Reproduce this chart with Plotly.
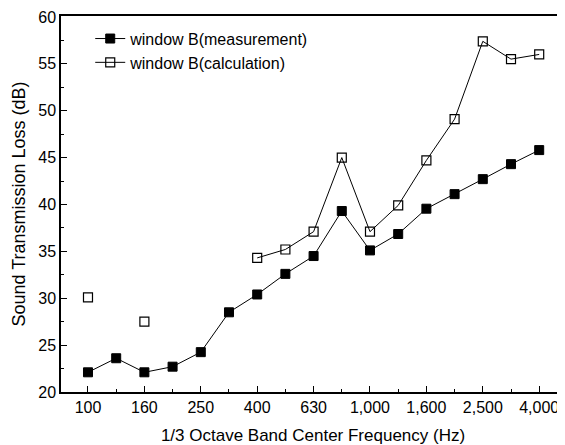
import plotly.graph_objects as go

freqs = [100, 125, 160, 200, 250, 315, 400, 500, 630, 800, 1000, 1250, 1600, 2000, 2500, 3150, 4000]
measurement = [22.1, 23.6, 22.1, 22.7, 24.25, 28.5, 30.4, 32.6, 34.5, 39.3, 35.1, 36.85, 39.55, 41.1, 42.7, 44.3, 45.8]
calculation = [30.1, None, 27.5, None, None, None, 34.3, 35.2, 37.1, 45.0, 37.1, 39.9, 44.7, 49.1, 57.4, 55.5, 56.0]
tick_labels = ["100", "160", "250", "400", "630", "1,000", "1,600", "2,500", "4,000"]

idx = list(range(len(freqs)))
tickvals = idx[::2]

font = "Liberation Sans, Arial, sans-serif"

fig = go.Figure()
fig.add_trace(go.Scatter(
    x=idx, y=measurement, mode="lines+markers", name="window B(measurement)",
    line=dict(color="black", width=1),
    marker=dict(symbol="square", size=9, color="black", line=dict(color="black", width=1)),
))
fig.add_trace(go.Scatter(
    x=idx, y=calculation, mode="lines+markers", name="window B(calculation)",
    connectgaps=False,
    line=dict(color="black", width=1),
    marker=dict(symbol="square-open", size=9, color="black", line=dict(color="black", width=1.2)),
))

# page body has an 8px default margin; figure is sized so it fills the 565x445 window
fig.update_layout(
    width=557, height=437,
    margin=dict(l=53, r=0, t=8, b=53, autoexpand=False),
    paper_bgcolor="white", plot_bgcolor="white",
    font=dict(family=font, size=16, color="black"),
    showlegend=True,
    legend=dict(x=0.058, y=0.985, xanchor="left", yanchor="top",
                bgcolor="rgba(0,0,0,0)", font=dict(size=16, family=font),
                itemwidth=30, tracegroupgap=0),
    xaxis=dict(
        range=[-0.957, 16.915], tickmode="array", tickvals=tickvals, ticktext=tick_labels,
        showline=True, linecolor="black", linewidth=1.5, mirror=True,
        ticks="inside", ticklen=6, tickcolor="black",
        minor=dict(tickmode="array", tickvals=idx[1::2], ticks="inside", ticklen=3, tickcolor="black"),
        showgrid=False, zeroline=False, automargin=False,
        tickfont=dict(size=16),
        title=dict(text="1/3 Octave Band Center Frequency (Hz)", font=dict(size=17), standoff=14),
    ),
    yaxis=dict(
        range=[20, 60.1], tickvals=[20, 25, 30, 35, 40, 45, 50, 55, 60],
        showline=True, linecolor="black", linewidth=1.5, mirror=False,
        ticks="inside", ticklen=6, tickcolor="black",
        minor=dict(dtick=2.5, ticks="inside", ticklen=3, tickcolor="black"),
        showgrid=False, zeroline=False, automargin=False,
        tickfont=dict(size=16),
        title=dict(text="Sound Transmission Loss (dB)", font=dict(size=18), standoff=8),
    ),
)

fig.write_html("out.html")
